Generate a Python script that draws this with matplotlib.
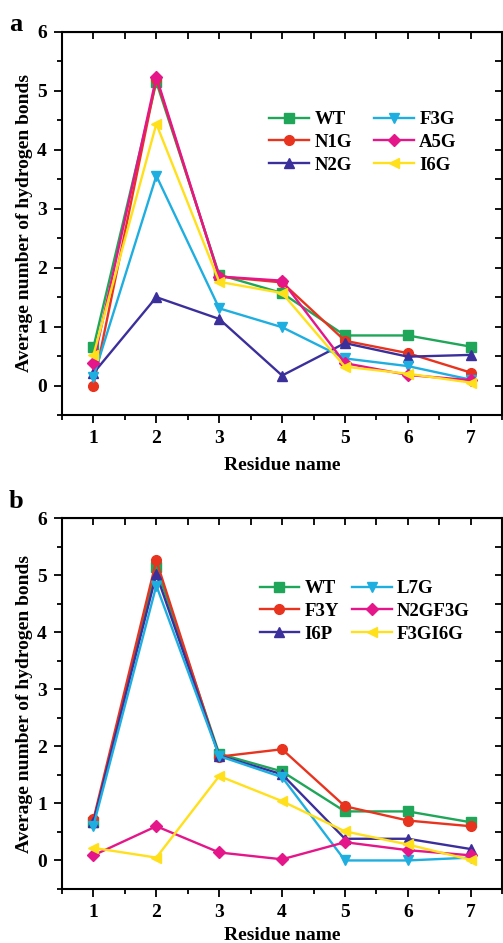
import matplotlib.pyplot as plt
from matplotlib.ticker import MultipleLocator

plt.rcParams['font.family'] = ['Liberation Serif', 'DejaVu Serif']
plt.rcParams['font.weight'] = 'bold'

residues = [1, 2, 3, 4, 5, 6, 7]

# panel a
wt_a = [0.65, 5.15, 1.88, 1.57, 0.85, 0.85, 0.66]
n1g = [0.00, 5.20, 1.85, 1.75, 0.76, 0.55, 0.22]
n2g = [0.21, 1.50, 1.13, 0.17, 0.72, 0.49, 0.52]
f3g = [0.15, 3.56, 1.31, 0.99, 0.46, 0.33, 0.10]
a5g = [0.39, 5.24, 1.85, 1.78, 0.38, 0.18, 0.09]
i6g = [0.52, 4.44, 1.76, 1.57, 0.32, 0.20, 0.05]

# panel b
wt_b = [0.68, 5.15, 1.87, 1.56, 0.86, 0.86, 0.67]
f3y = [0.72, 5.26, 1.82, 1.95, 0.95, 0.70, 0.60]
i6p = [0.68, 5.02, 1.84, 1.51, 0.38, 0.38, 0.20]
l7g = [0.61, 4.82, 1.83, 1.46, 0.00, 0.00, 0.05]
n2gf3g = [0.09, 0.60, 0.14, 0.02, 0.32, 0.18, 0.09]
f3gi6g = [0.22, 0.05, 1.48, 1.04, 0.51, 0.28, 0.01]

GREEN = '#1fa658'
RED = '#e8331f'
PURPLE = '#3b2f9c'
CYAN = '#1eaee0'
MAGENTA = '#e5168a'
YELLOW = '#ffe01a'

series_a = [('WT', wt_a, GREEN, 's'), ('N1G', n1g, RED, 'o'),
            ('N2G', n2g, PURPLE, '^'), ('F3G', f3g, CYAN, 'v'),
            ('A5G', a5g, MAGENTA, 'D'), ('I6G', i6g, YELLOW, '<')]
series_b = [('WT', wt_b, GREEN, 's'), ('F3Y', f3y, RED, 'o'),
            ('I6P', i6p, PURPLE, '^'), ('L7G', l7g, CYAN, 'v'),
            ('N2GF3G', n2gf3g, MAGENTA, 'D'), ('F3GI6G', f3gi6g, YELLOW, '<')]


def panel(ax, series, legend_anchor, colspace, xpad):
    for name, vals, color, mk in series:
        ms = 6 if mk == 'D' else 7
        ax.plot(residues, vals, color=color, marker=mk, markersize=ms,
                linewidth=1.7, label=name)
    ax.set_xlim(0.5, 7.5)
    ax.set_ylim(-0.5, 6)
    ax.xaxis.set_major_locator(MultipleLocator(1))
    ax.xaxis.set_minor_locator(MultipleLocator(0.5))
    ax.yaxis.set_major_locator(MultipleLocator(1))
    ax.yaxis.set_minor_locator(MultipleLocator(0.5))
    ax.set_yticks([0, 1, 2, 3, 4, 5, 6])
    ax.tick_params(which='both', direction='out', width=1.3, labelsize=14,
                   top=False, right=False)
    ax.tick_params(which='major', length=6, pad=5)
    ax.tick_params(which='minor', length=3.5)
    for side in ['top', 'right', 'bottom', 'left']:
        ax.spines[side].set_linewidth(1.5)
    # inward ticks mirrored on top and right
    top = ax.secondary_xaxis('top')
    top.xaxis.set_major_locator(MultipleLocator(0.5))
    top.tick_params(direction='in', length=5, width=1.3, labeltop=False)
    right = ax.secondary_yaxis('right')
    right.yaxis.set_major_locator(MultipleLocator(0.5))
    right.tick_params(direction='in', length=5, width=1.3, labelright=False)
    ax.set_xlabel('Residue name', fontsize=14, fontweight='bold', labelpad=xpad)
    ax.set_ylabel('Average number of hydrogen bonds', fontsize=14,
                  fontweight='bold', labelpad=3)
    ax.legend(ncol=2, loc='upper left', bbox_to_anchor=legend_anchor,
              frameon=False, fontsize=13.5, handlelength=2.1,
              handletextpad=0.3, columnspacing=colspace, labelspacing=0.3,
              borderpad=0.2)


fig = plt.figure(figsize=(5.03, 9.43), dpi=100)
ax_a = fig.add_axes([0.1233, 0.5599, 0.875, 0.4062])
ax_b = fig.add_axes([0.1233, 0.0573, 0.875, 0.3931])

panel(ax_a, series_a, (0.441, 0.828), 1.2, 7)
panel(ax_b, series_b, (0.419, 0.869), 0.7, 4)

fig.text(0.018, 0.974, 'a', fontsize=19, fontweight='bold', va='center')
fig.text(0.018, 0.468, 'b', fontsize=19, fontweight='bold', va='center')

fig.savefig('out.png', dpi=100)
